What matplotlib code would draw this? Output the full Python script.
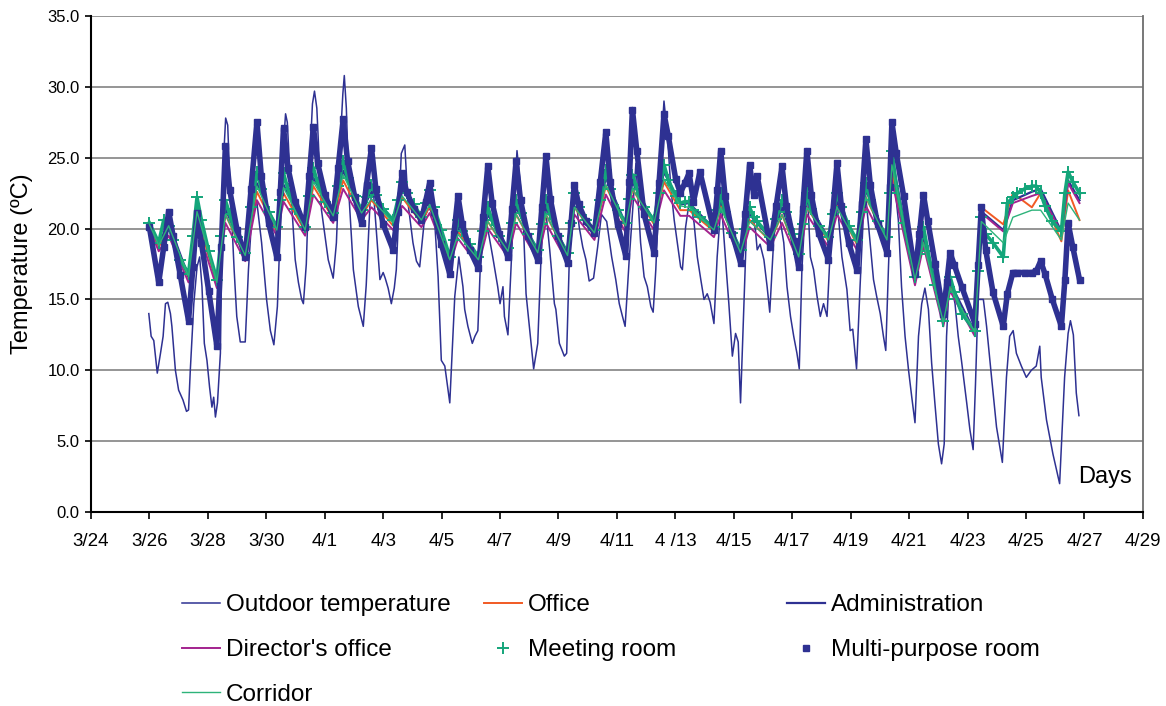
import matplotlib
matplotlib.use('Agg')
import matplotlib.pyplot as plt

plt.rcParams['font.family'] = ['Liberation Sans', 'DejaVu Sans']

# x axis: days counted from 3/24 00:00
tick_days = [0, 2, 4, 6, 8, 10, 12, 14, 16, 18, 20, 22, 24, 26, 28, 30, 32, 34, 36]
tick_labels = ['3/24', '3/26', '3/28', '3/30', '4/1', '4/3', '4/5', '4/7', '4/9',
               '4/11', '4 /13', '4/15', '4/17', '4/19', '4/21', '4/23', '4/25',
               '4/27', '4/29']
y_ticks = [0, 5, 10, 15, 20, 25, 30, 35]

# ── outdoor temperature (day, degC) ───────────────────────────────
outdoor = [
    (1.98, 14.0), (2.06, 12.4), (2.15, 12.1), (2.27, 9.8), (2.38, 11.2), (2.47, 12.4),
    (2.55, 14.7), (2.63, 14.8), (2.72, 14.0), (2.77, 13.1), (2.89, 10.0), (3.00, 8.6),
    (3.15, 7.9), (3.27, 7.1), (3.34, 7.2), (3.40, 10.0), (3.52, 14.7), (3.63, 17.3),
    (3.72, 18.0), (3.80, 15.9), (3.88, 11.9), (3.97, 10.7), (4.06, 8.8), (4.14, 7.4),
    (4.20, 8.1), (4.26, 6.7), (4.33, 7.7), (4.43, 11.2), (4.49, 20.6), (4.56, 25.8),
    (4.61, 27.8), (4.68, 27.3), (4.74, 24.1), (4.82, 20.6), (4.90, 17.1), (4.99, 13.8),
    (5.11, 12.0), (5.28, 12.0), (5.39, 17.1), (5.51, 21.0), (5.67, 22.0), (5.84, 19.0),
    (6.01, 15.0), (6.14, 12.8), (6.26, 11.8), (6.38, 14.5), (6.48, 20.0), (6.59, 26.0),
    (6.66, 28.1), (6.72, 27.5), (6.83, 23.0), (6.99, 17.8), (7.10, 16.2), (7.21, 15.0),
    (7.27, 14.7), (7.37, 17.5), (7.47, 24.0), (7.58, 28.8), (7.65, 29.7), (7.73, 28.5),
    (7.89, 21.3), (8.12, 17.8), (8.29, 16.5), (8.40, 19.0), (8.53, 26.0), (8.62, 29.5),
    (8.67, 30.8), (8.74, 28.5), (8.84, 22.0), (8.98, 17.1), (9.15, 14.5), (9.32, 13.1),
    (9.42, 16.0), (9.55, 21.8), (9.66, 22.8), (9.78, 19.5), (9.89, 16.4), (10.00, 16.9),
    (10.07, 16.5), (10.17, 15.8), (10.28, 14.7), (10.38, 15.8), (10.45, 17.1), (10.62, 25.3),
    (10.74, 25.9), (10.85, 21.8), (11.02, 19.0), (11.14, 17.7), (11.25, 17.3), (11.42, 20.8),
    (11.57, 21.5), (11.76, 20.6), (11.88, 16.6), (11.99, 10.7), (12.11, 10.3), (12.28, 7.7),
    (12.45, 15.2), (12.59, 18.0), (12.73, 15.9), (12.79, 14.3), (12.90, 13.1), (13.05, 11.9),
    (13.14, 12.4), (13.24, 12.8), (13.32, 17.1), (13.45, 21.5), (13.58, 20.0), (13.75, 18.0),
    (13.92, 15.9), (14.00, 14.7), (14.10, 15.9), (14.15, 13.8), (14.27, 12.5), (14.44, 20.1),
    (14.58, 25.5), (14.78, 21.3), (14.89, 15.4), (15.06, 11.9), (15.15, 10.1), (15.29, 11.9),
    (15.40, 17.8), (15.53, 22.0), (15.70, 18.5), (15.86, 14.7), (15.91, 14.3), (16.03, 11.9),
    (16.20, 11.0), (16.28, 11.2), (16.37, 17.8), (16.54, 23.1), (16.71, 20.1), (16.83, 18.7),
    (16.94, 17.8), (17.05, 16.3), (17.20, 16.5), (17.34, 18.7), (17.47, 21.0), (17.65, 20.5),
    (17.82, 18.0), (17.96, 16.4), (18.08, 14.7), (18.19, 13.8), (18.28, 13.1), (18.42, 17.8),
    (18.65, 24.6), (18.81, 19.0), (18.93, 16.6), (19.04, 15.9), (19.16, 14.5), (19.24, 14.1),
    (19.33, 17.1), (19.50, 25.3), (19.61, 29.0), (19.73, 26.5), (19.84, 23.0), (19.96, 20.6),
    (20.18, 17.3), (20.24, 17.1), (20.35, 20.1), (20.48, 22.0), (20.58, 21.1), (20.64, 20.4),
    (20.75, 18.0), (20.87, 16.4), (20.98, 15.0), (21.09, 15.4), (21.19, 14.8), (21.32, 13.3),
    (21.43, 18.0), (21.57, 22.0), (21.71, 18.0), (21.83, 14.7), (21.95, 11.0), (22.06, 12.6),
    (22.15, 12.0), (22.23, 7.7), (22.35, 15.0), (22.46, 21.5), (22.63, 21.0), (22.74, 19.9),
    (22.80, 18.5), (22.90, 18.9), (23.03, 17.8), (23.14, 15.9), (23.23, 14.1), (23.37, 19.4),
    (23.48, 22.0), (23.71, 19.0), (23.82, 15.9), (23.94, 13.8), (24.05, 12.4), (24.16, 11.2),
    (24.24, 10.1), (24.33, 17.1), (24.50, 23.5), (24.62, 18.0), (24.73, 17.1), (24.85, 15.2),
    (24.96, 13.8), (25.07, 14.7), (25.19, 13.8), (25.30, 18.5), (25.49, 23.0), (25.70, 18.0),
    (25.87, 15.7), (25.98, 12.8), (26.07, 12.9), (26.20, 10.1), (26.32, 15.9), (26.48, 23.0),
    (26.62, 20.0), (26.78, 16.4), (26.89, 15.2), (27.01, 14.0), (27.12, 12.4), (27.20, 11.4),
    (27.29, 17.1), (27.41, 24.0), (27.51, 23.0), (27.63, 20.6), (27.74, 15.9), (27.86, 12.4),
    (27.98, 10.0), (28.09, 8.1), (28.20, 6.3), (28.32, 12.4), (28.43, 14.7), (28.54, 15.8),
    (28.66, 14.3), (28.77, 10.5), (28.88, 7.7), (29.00, 4.8), (29.11, 3.4), (29.20, 4.8),
    (29.28, 12.4), (29.36, 15.7), (29.45, 15.9), (29.57, 14.7), (29.68, 12.4), (29.79, 10.7),
    (29.97, 7.7), (30.08, 5.8), (30.19, 4.4), (30.27, 9.0), (30.36, 15.0), (30.54, 15.0),
    (30.65, 13.1), (30.82, 9.5), (30.99, 6.0), (31.19, 3.5), (31.33, 9.5), (31.44, 12.4),
    (31.56, 12.8), (31.67, 11.2), (31.84, 10.3), (32.01, 9.5), (32.18, 10.0), (32.35, 10.3),
    (32.47, 11.7), (32.52, 9.5), (32.70, 6.5), (32.92, 4.1), (33.15, 2.0), (33.32, 9.5),
    (33.44, 12.6), (33.52, 13.5), (33.62, 12.5), (33.72, 8.4), (33.81, 6.8),
]
outdoor_days = [p[0] for p in outdoor]
outdoor_temp = [p[1] for p in outdoor]

# ── rooms read at trough / peak of every day ─────────────────────
line_days = [2.00,
             2.32, 2.66, 3.34, 3.63, 4.31, 4.60, 5.28, 5.68, 6.36, 6.59,
             7.33, 7.61, 8.29, 8.63, 9.26, 9.60, 10.34, 10.65, 11.31, 11.59,
             12.28, 12.56, 13.26, 13.58, 14.27, 14.55, 15.29, 15.57, 16.31, 16.54,
             17.23, 17.62, 18.30, 18.53, 19.27, 19.61, 20.17, 20.47, 21.32, 21.55,
             22.23, 22.54, 23.25, 23.65, 24.22, 24.50, 25.24, 25.53, 26.21, 26.52,
             27.24, 27.41, 28.20, 28.49, 29.17, 29.40, 30.25, 30.47, 31.22, 31.55,
             32.20, 32.50, 33.21, 33.44,
             33.83]

office = [20.2,
          18.7, 20.0, 16.5, 20.8, 16.1, 21.0, 18.0, 22.6, 19.8, 22.5,
          19.8, 23.0, 20.7, 23.4, 20.9, 22.0, 20.2, 22.2, 20.4, 21.6,
          17.7, 19.8, 17.7, 20.5, 18.3, 21.0, 18.2, 21.0, 18.0, 21.5,
          19.6, 23.0, 20.1, 22.8, 20.3, 23.3, 21.3, 21.3, 19.8, 21.6,
          18.2, 20.6, 19.1, 21.0, 17.9, 21.5, 19.1, 21.6, 18.9, 22.2,
          19.1, 24.0, 16.3, 19.2, 13.3, 16.0, 12.6, 21.5, 20.3, 22.5,
          21.5, 22.5, 19.1, 22.7,
          20.6]

admin = [20.3,
         18.9, 20.4, 16.6, 21.4, 16.3, 21.4, 18.2, 23.2, 20.0, 23.1,
         20.0, 23.6, 21.0, 24.1, 21.2, 22.6, 20.5, 22.8, 20.7, 22.2,
         17.9, 20.1, 17.9, 21.0, 18.5, 21.5, 18.4, 21.5, 18.2, 22.0,
         19.8, 23.6, 20.3, 23.3, 20.5, 24.0, 21.7, 21.8, 20.0, 22.0,
         18.4, 21.0, 19.3, 21.5, 18.1, 22.0, 19.3, 22.0, 19.1, 22.7,
         19.3, 25.0, 16.5, 19.5, 13.4, 16.2, 12.7, 21.2, 19.9, 22.0,
         22.6, 22.8, 19.8, 23.4,
         22.0]

director = [20.0,
            18.4, 19.5, 16.2, 20.2, 15.8, 20.4, 17.7, 22.0, 19.5, 21.9,
            19.5, 22.4, 20.4, 22.8, 20.6, 21.5, 19.9, 21.6, 20.1, 21.1,
            17.4, 19.3, 17.4, 20.0, 18.0, 20.4, 17.8, 20.4, 17.6, 21.0,
            19.2, 22.4, 19.7, 22.3, 19.9, 22.7, 20.9, 20.9, 19.4, 21.0,
            17.8, 20.1, 18.7, 20.4, 17.6, 21.0, 18.7, 21.0, 18.5, 21.6,
            18.7, 23.4, 16.0, 18.8, 13.1, 15.6, 12.4, 21.1, 19.8, 21.8,
            22.3, 22.5, 19.7, 23.2,
            21.8]

corridor = [20.3,
            18.8, 20.2, 16.6, 21.2, 16.2, 21.0, 18.1, 23.0, 19.9, 22.9,
            19.9, 23.3, 20.9, 23.8, 21.1, 22.1, 20.4, 22.3, 20.6, 21.7,
            17.8, 19.6, 17.8, 20.5, 18.4, 21.0, 18.3, 21.0, 18.1, 21.5,
            19.7, 23.1, 20.2, 22.8, 20.4, 23.5, 21.6, 21.5, 19.9, 21.5,
            18.3, 20.5, 19.2, 21.0, 18.0, 21.5, 19.2, 21.5, 19.0, 22.2,
            19.2, 24.5, 16.4, 19.0, 13.4, 15.8, 12.7, 20.5, 19.0, 20.8,
            21.3, 21.3, 19.2, 21.8,
            20.6]

# ── rooms read five times a day (trough, rise, peak, two on the fall) ──
hvac_days = [2.00,
             2.32, 2.49, 2.66, 2.81, 3.06,
             3.34, 3.49, 3.63, 3.78, 4.03,
             4.31, 4.46, 4.60, 4.75, 5.00,
             5.28, 5.48, 5.68, 5.83, 6.08,
             6.36, 6.48, 6.59, 6.74, 6.99,
             7.33, 7.47, 7.61, 7.76, 8.01,
             8.29, 8.46, 8.63, 8.78, 9.03,
             9.26, 9.43, 9.60, 9.75, 10.00,
             10.34, 10.50, 10.65, 10.80, 11.05,
             11.31, 11.45, 11.59, 11.74, 11.99,
             12.28, 12.42, 12.56, 12.71, 12.96,
             13.26, 13.42, 13.58, 13.73, 13.98,
             14.27, 14.41, 14.55, 14.70, 14.95,
             15.29, 15.43, 15.57, 15.72, 15.97,
             16.31, 16.43, 16.54, 16.69, 16.94,
             17.23, 17.43, 17.62, 17.77, 18.02,
             18.30, 18.42, 18.53, 18.68, 18.93,
             19.27, 19.44, 19.61, 19.76, 20.01,
             20.17, 20.32, 20.47, 20.62, 20.84,
             21.32, 21.44, 21.55, 21.70, 21.95,
             22.23, 22.39, 22.54, 22.68, 22.80,
             23.25, 23.45, 23.65, 23.80, 24.05,
             24.22, 24.36, 24.50, 24.65, 24.90,
             25.24, 25.39, 25.53, 25.68, 25.93,
             26.21, 26.37, 26.52, 26.67, 26.92,
             27.24, 27.33, 27.41, 27.56, 27.81,
             28.20, 28.35, 28.49, 28.64, 28.89,
             29.17, 29.29, 29.40, 29.55, 29.80,
             30.25, 30.36, 30.47, 30.62, 30.87,
             31.22, 31.36, 31.55, 31.70, 31.95,
             32.20, 32.35, 32.50, 32.65, 32.90,
             33.21, 33.33, 33.44, 33.60, 33.83]

meeting = [20.4,
           19.0, 20.6, 20.2, 19.2, 17.8,
           16.8, 19.5, 22.2, 20.6, 18.4,
           16.4, 19.5, 22.0, 21.0, 19.4,
           18.3, 21.5, 24.0, 22.8, 21.2,
           20.1, 22.0, 23.9, 22.8, 21.4,
           20.1, 22.3, 24.3, 23.2, 21.9,
           21.1, 23.0, 24.8, 23.6, 22.3,
           21.3, 22.2, 23.1, 22.4, 21.4,
           20.6, 22.0, 23.3, 22.5, 21.7,
           20.8, 21.8, 22.7, 21.5, 19.9,
           18.0, 19.2, 20.6, 19.8, 18.9,
           18.0, 19.8, 21.5, 20.6, 19.5,
           18.6, 20.4, 22.0, 21.1, 19.6,
           18.5, 20.3, 22.0, 21.0, 19.5,
           18.3, 20.4, 22.5, 21.5, 20.6,
           19.9, 22.0, 24.1, 22.8, 21.3,
           20.4, 22.1, 23.8, 22.8, 21.5,
           20.6, 22.5, 24.5, 23.4, 22.3,
           21.8, 21.9, 21.9, 21.3, 20.8,
           20.1, 21.3, 22.5, 21.2, 19.7,
           18.5, 20.0, 21.5, 20.8, 20.5,
           19.4, 20.7, 22.0, 21.2, 19.6,
           18.2, 20.3, 22.5, 21.4, 20.2,
           19.4, 21.0, 22.5, 21.5, 20.2,
           19.2, 21.2, 23.2, 22.0, 20.5,
           19.4, 22.5, 25.5, 23.0, 20.4,
           16.6, 18.2, 20.1, 18.4, 16.0,
           13.5, 15.0, 16.6, 15.5, 14.0,
           12.8, 17.0, 20.8, 19.6, 19.0,
           18.0, 21.8, 22.2, 22.5, 22.8,
           23.0, 23.0, 22.5, 21.6, 20.5,
           19.8, 22.5, 24.0, 23.3, 22.5]

multi = [20.1,
         16.2, 18.7, 21.2, 19.5, 16.7,
         13.5, 17.3, 21.1, 19.0, 15.6,
         11.7, 18.7, 25.8, 22.7, 19.9,
         18.0, 22.8, 27.5, 23.7, 20.4,
         18.0, 22.6, 27.1, 24.3, 21.9,
         20.1, 23.7, 27.2, 24.6, 22.4,
         20.8, 24.3, 27.7, 24.8, 22.2,
         20.4, 23.1, 25.7, 22.8, 20.3,
         18.5, 21.2, 23.9, 22.6, 21.4,
         20.6, 21.9, 23.2, 21.2, 18.9,
         16.8, 19.6, 22.3, 20.3, 18.5,
         17.2, 20.8, 24.4, 21.8, 19.6,
         18.0, 21.4, 24.8, 22.0, 19.5,
         17.8, 21.5, 25.1, 22.1, 19.5,
         17.6, 20.4, 23.1, 21.7, 20.5,
         19.7, 23.3, 26.8, 23.3, 20.3,
         18.1, 23.3, 28.4, 25.5, 21.0,
         18.3, 23.2, 28.1, 26.5, 23.5,
         22.5, 23.2, 23.9, 21.9, 24.0,
         19.9, 22.7, 25.5, 22.3, 19.6,
         17.6, 21.0, 24.5, 22.4, 23.7,
         18.7, 21.6, 24.4, 21.6, 19.1,
         17.3, 21.4, 25.5, 22.4, 19.7,
         17.8, 21.2, 24.6, 21.6, 19.0,
         17.1, 21.7, 26.3, 23.1, 20.3,
         18.3, 22.9, 27.5, 25.3, 22.3,
         16.8, 19.6, 22.4, 20.5, 17.5,
         14.0, 16.2, 18.3, 17.4, 15.9,
         13.3, 17.4, 21.5, 18.5, 15.5,
         13.1, 15.4, 16.9, 16.9, 16.9,
         16.9, 17.0, 17.7, 16.8, 15.0,
         13.1, 16.4, 20.4, 18.7, 16.4]

navy = '#2E3192'
orange = '#F15A24'
purple = '#A3238E'
green_pl = '#14A57A'
green_ln = '#2DB37A'

fig = plt.figure(figsize=(11.66, 7.06), dpi=100)
ax = fig.add_axes([0.078, 0.2748, 0.9022, 0.7025])

h_out, = ax.plot(outdoor_days, outdoor_temp, color=navy, lw=1.1, zorder=2,
                 label='Outdoor temperature')
h_off, = ax.plot(line_days, office, color=orange, lw=1.4, zorder=3, label='Office')
h_adm, = ax.plot(line_days, admin, color=navy, lw=1.6, zorder=3, label='Administration')
h_dir, = ax.plot(line_days, director, color=purple, lw=1.4, zorder=4,
                 label="Director's office")
ax.plot(hvac_days, meeting, color=green_pl, lw=2.6, zorder=5)
h_meet, = ax.plot(hvac_days, meeting, ls='none', marker='+', ms=8, mew=1.4,
                  color=green_pl, zorder=5, label='Meeting room')
ax.plot(hvac_days, multi, color=navy, lw=4.0, zorder=6)
h_multi, = ax.plot(hvac_days, multi, ls='none', marker='s', ms=4.5, color=navy,
                   zorder=6, label='Multi-purpose room')
h_cor, = ax.plot(line_days, corridor, color=green_ln, lw=1.0, zorder=7, label='Corridor')

ax.set_xlim(0, 36)
ax.set_ylim(0, 35)
ax.set_xticks(tick_days)
ax.set_xticklabels(tick_labels, fontsize=13.5)
ax.set_yticks(y_ticks)
ax.set_yticklabels([f'{v:.1f}' for v in y_ticks], fontsize=12)
ax.tick_params(axis='x', direction='out', length=5, width=1.2, pad=10)
ax.tick_params(axis='y', direction='out', length=4, width=1.2, pad=4)

ax.yaxis.grid(True, color='#8C8C8C', lw=1.3)
ax.set_axisbelow(True)
ax.spines['top'].set_visible(False)
ax.spines['right'].set_color('#6D6D6D')
ax.spines['right'].set_linewidth(1.3)
ax.spines['left'].set_linewidth(1.5)
ax.spines['bottom'].set_linewidth(1.5)

ax.set_ylabel('Temperature (ºC)', fontsize=17)
ax.yaxis.set_label_coords(-0.055, 0.5)
ax.text(34.7, 2.5, 'Days', fontsize=17, ha='center', va='center')

# three legend columns, rows read left to right
leg_kw = dict(loc='upper left', frameon=False, fontsize=17.5, handlelength=1.57,
              handletextpad=0.25, labelspacing=0.93, borderpad=0, borderaxespad=0)
fig.legend(handles=[h_out, h_dir, h_cor], bbox_to_anchor=(0.1561, 0.158), **leg_kw)
fig.legend(handles=[h_off, h_meet], bbox_to_anchor=(0.4151, 0.158), **leg_kw)
fig.legend(handles=[h_adm, h_multi], bbox_to_anchor=(0.6750, 0.158), **leg_kw)

fig.savefig('out.png', dpi=100)
